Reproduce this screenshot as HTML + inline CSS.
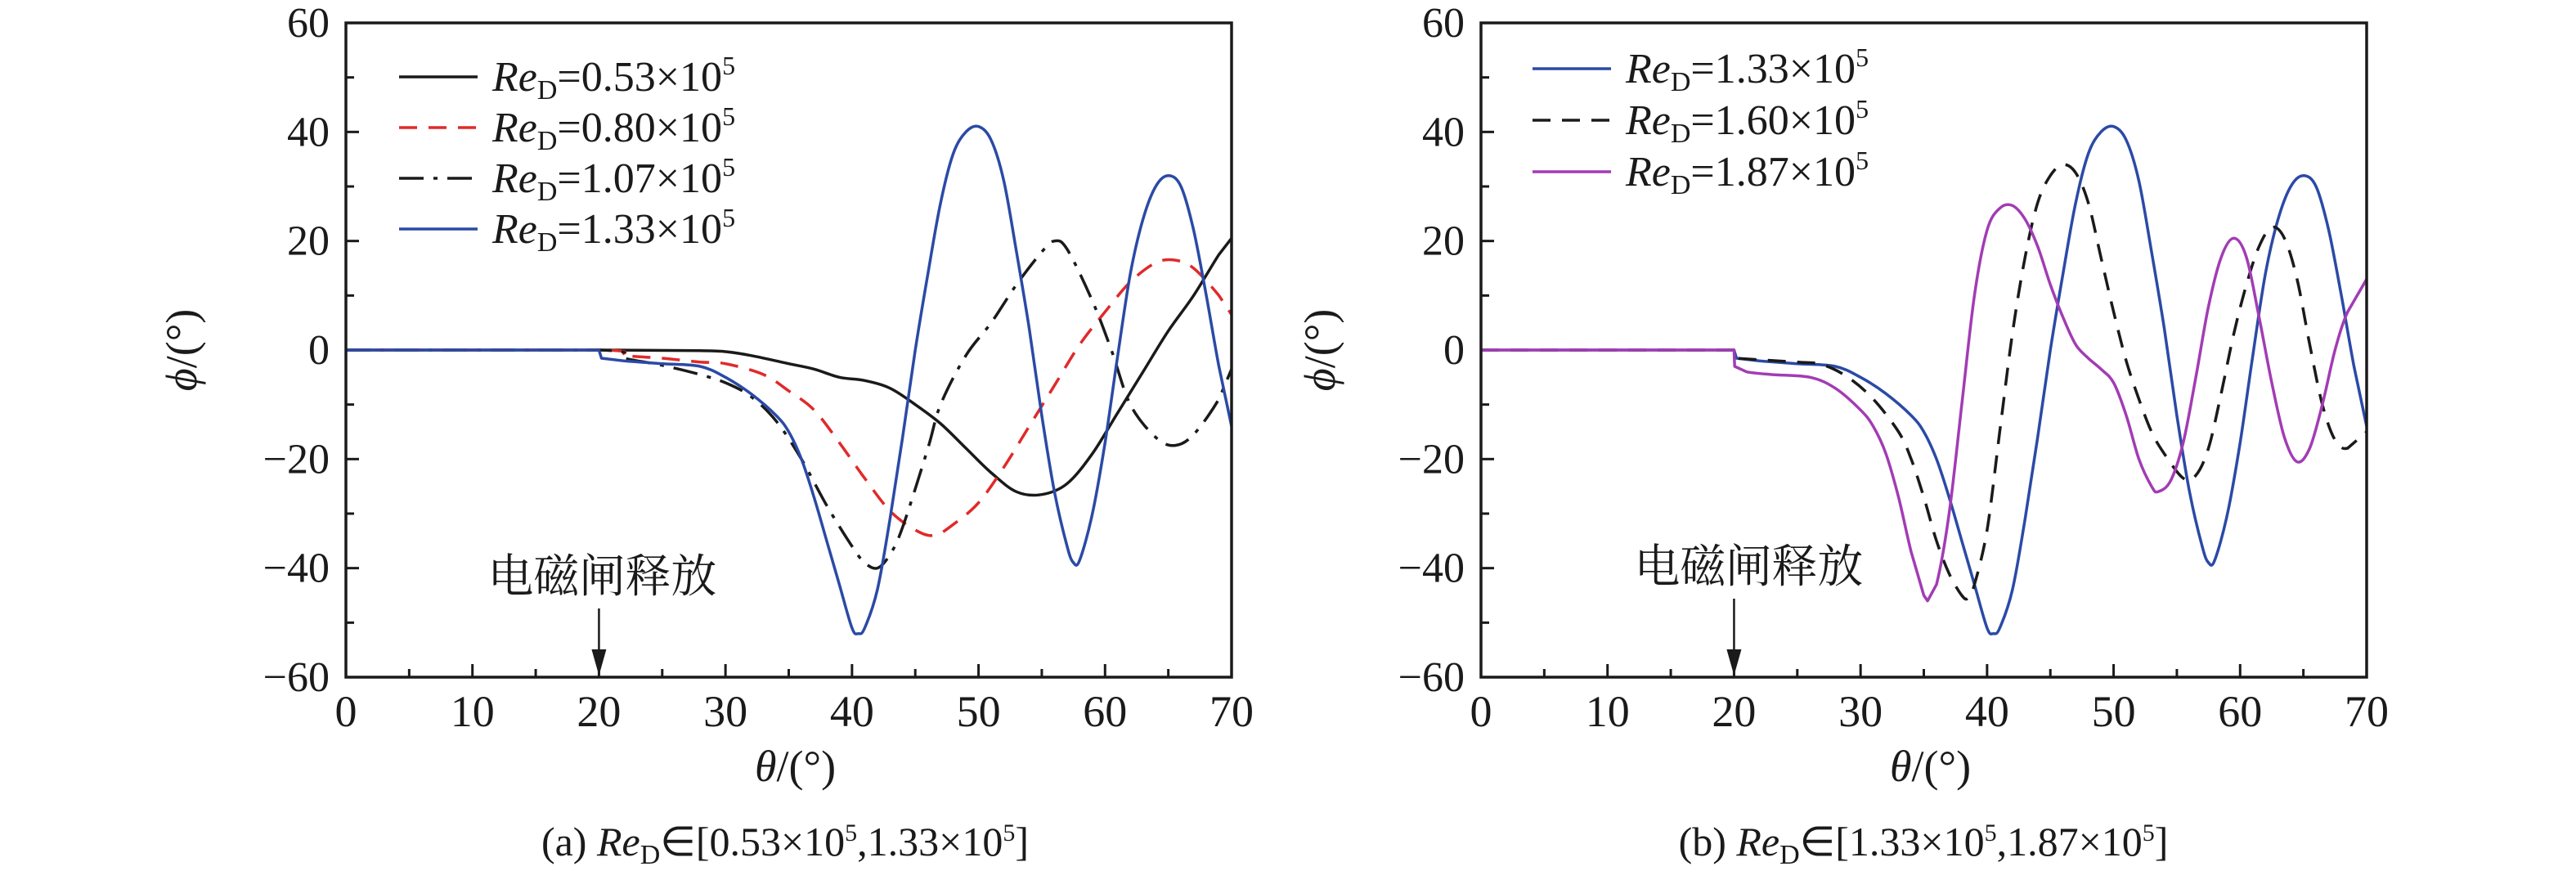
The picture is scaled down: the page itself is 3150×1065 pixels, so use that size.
<!DOCTYPE html>
<html><head><meta charset="utf-8"><style>
html,body{margin:0;padding:0;background:#fff}
svg{display:block}
svg text{font-family:"Liberation Serif",serif;fill:#1a1a1a}
svg text.cjk{font-family:"Liberation Serif","Noto Serif CJK SC",serif}
</style></head><body>
<svg id="fig" width="3150" height="1065" viewBox="0 0 3150 1065" xmlns="http://www.w3.org/2000/svg">
<g id="pa"></g>
<g id="pb"></g>
</svg>
<script>
const thetaTicks=[0,10,20,30,40,50,60,70];
const phiTicks=[-60,-40,-20,0,20,40,60];
const s053x=[0,20,28,30,32,35,37,39,41,43,45,47,49,51,53,55,57,59,61,63,65,67,69,70];
const s053y=[0,0,-0.1,-0.3,-1,-2.5,-3.5,-5,-5.6,-7,-10,-13.5,-18,-22.5,-26,-26.5,-24.5,-19,-11.5,-4,3.5,10,17.5,20.5];
const s080x=[0,20,22,25,28,30,33,35,37,39,41,43,45,46.5,48,50,52,54,56,58,60,62,64,65.5,67,69,70];
const s080y=[0,0,-1,-1.5,-2.2,-2.5,-4.5,-7.5,-11,-17,-23.5,-29.5,-33,-34,-32,-28,-21.5,-14,-6.5,1,7,12.5,16,16.5,15,10,6.5];
const s107x=[0,20,22,25,28,30,32,34,36,38,40,41,42,43,44,46,47,49,51,53,55,56,57,59,60.5,62,64,65.5,67,69,70];
const s107y=[0,0,-1.5,-2.8,-4.5,-6,-8.5,-13,-20,-28.5,-36,-39,-40,-37.5,-32.5,-18,-10,-1,5,12,18,20,18.5,9,0,-10,-16,-17.5,-15.5,-9,-3.5];
const s133x=[0,20,20.2,22,25,28,30,32,34,35,36,37,38,39,40,40.5,41,42,43,44,45,46,47,48,49,50,51,52,53,54,55,56,57,57.5,58,59,60,61,62,63,64,65,66,67,68,69,70];
const s133y=[0,0,-1.5,-2,-2.5,-3,-5,-8,-12,-15,-20,-27,-35,-43,-51,-52,-51,-44,-31,-16,0,14,27,36,40,41,38.5,31,18,4,-12,-26,-36,-39,-38.5,-30,-17,-1,14,24,30,32,30,22,10,-3,-14];
const s160x=[0,20,20.05,25,27,29,31,33,34,35,36,37,38,38.5,39,40,41,42,43,44,45,46,47,48,49,50,51,52,53,54,55.5,56.5,57.5,58.5,59.5,60.5,61.5,62.5,63.5,64.5,65.5,66.5,67.5,68.5,70];
const s160y=[0,0,-1.5,-2.2,-2.7,-5,-9,-15,-20,-27,-35,-41,-45,-45.5,-43,-33,-15,3,17,27,32,34,32.5,27,17,7,-2,-9,-15,-19,-23.5,-23,-18,-8,3,12,19,22.5,20.5,13,1,-10,-16.5,-18,-15];
const s187x=[0,20,20.05,21,23,26,28,30,31,32,33,34,35,35.3,36,37,38,39,40,41,42,43,44,45,46,47,48,49,50,51,52,53,53.5,54.5,55.5,56.5,57.5,58.5,59.5,60.5,61.5,62.5,63.5,64.5,65.5,66.5,67.5,68.5,70];
const s187y=[0,0,-3,-4,-4.5,-5,-7,-11,-14,-19,-27,-37,-45,-46,-43,-30,-10,10,22,26,26.5,24,19,12,6,1,-1.5,-3.5,-6,-12,-20,-25,-26,-24,-17,-5,8,17,20.5,17,6,-6,-16,-20.5,-18,-10,0,7,13];

const NS='http://www.w3.org/2000/svg';
const SERIF="font-family:'Liberation Serif',serif";
function mk(p,tag,attrs){const e=document.createElementNS(NS,tag);for(const k in attrs)e.setAttribute(k,attrs[k]);if(tag==='text'&&!attrs.style)e.setAttribute('style',SERIF);p.appendChild(e);return e;}
const Y0=28,Y1=828;
function yS(v){return Y0+(60-v)/120*(Y1-Y0);}
function smooth(pts){
  let d='M'+pts[0][0].toFixed(1)+','+pts[0][1].toFixed(1);
  for(let i=0;i<pts.length-1;i++){
    const p0=pts[Math.max(0,i-1)],p1=pts[i],p2=pts[i+1],p3=pts[Math.min(pts.length-1,i+2)];
    if(Math.abs(p2[0]-p1[0])<6||Math.abs(p1[0]-p0[0])<6||Math.abs(p3[0]-p2[0])<6){d+='L'+p2[0].toFixed(1)+','+p2[1].toFixed(1);continue;}
    const t=1/6;
    const c1=[p1[0]+(p2[0]-p0[0])*t,p1[1]+(p2[1]-p0[1])*t];
    const c2=[p2[0]-(p3[0]-p1[0])*t,p2[1]-(p3[1]-p1[1])*t];
    d+='C'+c1[0].toFixed(1)+','+c1[1].toFixed(1)+' '+c2[0].toFixed(1)+','+c2[1].toFixed(1)+' '+p2[0].toFixed(1)+','+p2[1].toFixed(1);
  }
  return d;
}
var annY;
function panel(g,X0,X1,series,legend,labelX,annX,caption,capX){
  const xS=v=>X0+v/70*(X1-X0);
  for(let v=0;v<=70;v+=5){
    const major=v%10===0;
    const t=mk(g,'line',{x1:xS(v),x2:xS(v),y1:Y1,y2:Y1-(major?16:10),stroke:'#1a1a1a','stroke-width':3});
    
    
  }
  thetaTicks.forEach(v=>{
    const t=mk(g,'text',{x:xS(v),y:888,'font-size':54,'text-anchor':'middle'});t.textContent=v;
    
    
  });
  for(let v=-60;v<=60;v+=10){
    const major=v%20===0;
    const t=mk(g,'line',{x1:X0,x2:X0+(major?16:10),y1:yS(v),y2:yS(v),stroke:'#1a1a1a','stroke-width':3});
    
    
  }
  phiTicks.forEach(v=>{
    const t=mk(g,'text',{x:X0-20,y:yS(v)+17,'font-size':52,'text-anchor':'end'});t.textContent=v<0?'\u2212'+(-v):v;
    
    
  });
  const lg=mk(g,'g',{});
  
  
  series.forEach((s,i)=>{
    const pts=s.x.map((v,j)=>[xS(v),yS(s.y[j])]);
    const p=mk(g,'path',{d:smooth(pts),fill:'none',stroke:s.c,'stroke-width':3.5,'stroke-dasharray':s.dash||'none','stroke-linejoin':'round'});
    
    
    const ly=legend.y0+i*legend.dy;
    const ll=mk(lg,'line',{x1:legend.x,x2:legend.x+96,y1:ly,y2:ly,stroke:s.c,'stroke-width':3.5,'stroke-dasharray':s.dash||'none'});
    
    
    const lt=mk(lg,'text',{x:legend.x+114,y:ly+17,'font-size':52});
    lt.innerHTML='<tspan font-style="italic">Re</tspan><tspan font-size="34" dy="10">D</tspan><tspan dy="-10">='+s.label+'\u00d710</tspan><tspan font-size="32" dy="-20">5</tspan>';
    
    
  });
  const f=mk(g,'rect',{x:X0,y:Y0,width:X1-X0,height:Y1-Y0,fill:'none',stroke:'#1a1a1a','stroke-width':3.5});
  
  
  const xt=mk(g,'text',{x:(X0+X1)/2+8,y:955,'font-size':54,'text-anchor':'middle'});
  xt.innerHTML='<tspan font-style="italic">θ</tspan>/(°)';
  
  
  const yt=mk(g,'text',{x:0,y:0,'font-size':54,'text-anchor':'middle',transform:'translate('+labelX+','+yS(0)+') rotate(-90)'});
  yt.innerHTML='<tspan font-style="italic">ϕ</tspan>/(°)';
  
  
  const at=mk(g,'text',{x:xS(20)+annX,y:annY,'font-size':56,'text-anchor':'middle',style:"font-family:'Noto Serif CJK SC',serif"});
  at.textContent='电磁闸释放';
  
  
  const ar=mk(g,'line',{x1:xS(20),x2:xS(20),y1:annY+20,y2:Y1-20,stroke:'#1a1a1a','stroke-width':2.5});
  
  
  const ah=mk(g,'path',{d:'M'+(xS(20)-9)+','+(Y1-34)+' L'+(xS(20)+9)+','+(Y1-34)+' L'+xS(20)+','+(Y1-2)+'Z',fill:'#1a1a1a'});
  
  
  const c=mk(g,'text',{x:capX,y:1046,'font-size':50,'text-anchor':'middle'});
  c.innerHTML=caption;
  
  
}
const blue='#2b4aa6',red='#e02a2a',mag='#a23cb4',blk='#1a1a1a';
annY=724;
panel(document.getElementById('pa'),423,1506,[
 {name:'re-0-53',x:s053x,y:s053y,c:blk,label:'0.53'},
 {name:'re-0-80',x:s080x,y:s080y,c:red,dash:'22 14',label:'0.80'},
 {name:'re-1-07',x:s107x,y:s107y,c:blk,dash:'30 12 5 12',label:'1.07'},
 {name:'re-1-33',x:s133x,y:s133y,c:blue,label:'1.33'}
],{x:488,y0:94,dy:62},240,4,'(a) <tspan font-style="italic">Re</tspan><tspan font-size="34" dy="10">D</tspan><tspan dy="-10">∈[0.53×10</tspan><tspan font-size="30" dy="-18">5</tspan><tspan dy="18">,1.33×10</tspan><tspan font-size="30" dy="-18">5</tspan><tspan dy="18">]</tspan>',960);
annY=712;
panel(document.getElementById('pb'),1811,2894,[
 {name:'re-1-33',x:s133x,y:s133y,c:blue,label:'1.33'},
 {name:'re-1-60',x:s160x,y:s160y,c:blk,dash:'22 14',label:'1.60'},
 {name:'re-1-87',x:s187x,y:s187y,c:mag,label:'1.87'}
],{x:1874,y0:84,dy:63},1632,18,'(b) <tspan font-style="italic">Re</tspan><tspan font-size="34" dy="10">D</tspan><tspan dy="-10">∈[1.33×10</tspan><tspan font-size="30" dy="-18">5</tspan><tspan dy="18">,1.87×10</tspan><tspan font-size="30" dy="-18">5</tspan><tspan dy="18">]</tspan>',2352);
</script>
</body></html>
